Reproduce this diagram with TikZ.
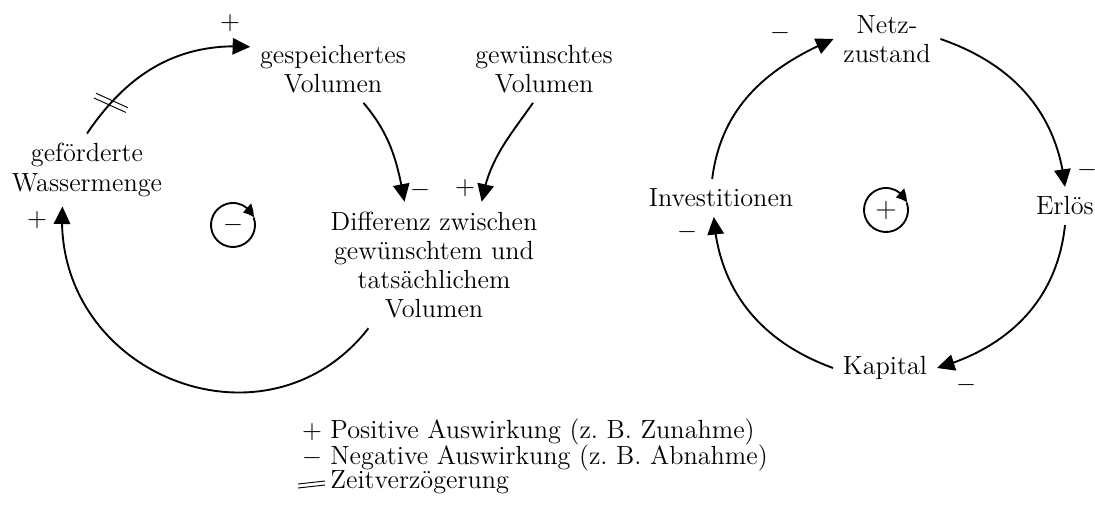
\documentclass[tikz,border=0pt]{standalone}
\usepackage{amsmath,amsfonts,amssymb}
\usetikzlibrary{arrows.meta,bending,decorations.markings}

\begin{document}
\begin{tikzpicture}[x=0.015cm, y=0.015cm, font=\fontsize{11.2}{12.5}\selectfont,
	var/.style={align=center, inner sep=4pt},
	sgn/.style={inner sep=0pt},
	link/.style={thick, -{Triangle[length=7.5pt, width=7pt]}},
	loopsign/.style={thick, -{Triangle[length=5pt, width=5pt, bend]}},
	delaymark/.style={thin, -},
	delaylink/.style={link, postaction={decorate}, decoration={markings, mark=at position 0.2 with {
		\draw[delaymark] ([shift={(18:1.1pt)}]-72:7.5pt) -- ([shift={(18:1.1pt)}]108:7.5pt);
		\draw[delaymark] ([shift={(198:1.1pt)}]-72:7.5pt) -- ([shift={(198:1.1pt)}]108:7.5pt);}}}]
			\useasboundingbox (0,0) rectangle (1095,504);

			% left loop
			\node (gesp) at (333,435) [var] {gespeichertes\\Volumen};
			\node (gew) at (544,435) [var] {gewünschtes\\Volumen};
			\node (gef) at (87,334) [var] {geförderte\\Wassermenge};
			\node (diff) at (434,239) [var] {Differenz zwischen\\gewünschtem und\\tatsächlichem\\Volumen};
			\node (loopA) at (233,279) [sgn] {$-$};

			\node (s1) at (230,481) [sgn] {$+$};
			\node (s2) at (420,314) [sgn] {$-$};
			\node (s3) at (465,316) [sgn] {$+$};
			\node (s4) at (37,284) [sgn] {$+$};

			\draw[delaylink] (gef.north) to[out=56,in=176] (gesp.165);
			\draw[link] (gesp.-48) to[out=-50,in=100] (diff.115);
			\draw[link] (gew.-108) to[out=-125,in=80] (diff.53);
			\draw[link] (diff.-136) to[out=-128,in=-94,looseness=1.3] (gef.-124);
			\draw[loopsign] (loopA) ++(20:22) arc[start angle=20, end angle=-340, radius=22];

			% right loop
			\node (netz) at (887,465) [var] {Netz-\\zustand};
			\node (erl) at (1065,298) [var] {Erlös};
			\node (kap) at (885,136) [var] {Kapital};
			\node (inv) at (721,306) [var] {Investitionen};
			\node (loopB) at (886,294) [sgn] {\large$+$};

			\node (s5) at (1087,334) [sgn] {$-$};
			\node (s6) at (966,119) [sgn] {$-$};
			\node (s7) at (687,272) [sgn] {$-$};
			\node (s8) at (780,471) [sgn] {$-$};

			\draw[link] (netz.east) to[out=-19,in=96] (erl.north);
			\draw[link] (erl.south) to[out=-96,in=16] (kap.east);
			\draw[link] (kap.west) to[out=160,in=-86] (inv.-111);
			\draw[link] (inv.115) to[out=83,in=-157] (netz.west);
			\draw[loopsign] (loopB) ++(20:22) arc[start angle=20, end angle=-340, radius=22];

			% legend
			\node (lgplus) at (312,65) [sgn, anchor=base] {$+$};
			\node (lgminus) at (312,40) [sgn, anchor=base] {$-$};
			\node (lgpos) at (330,65) [sgn, anchor=base west] {Positive Auswirkung (z.~B. Zunahme)};
			\node (lgneg) at (330,40) [sgn, anchor=base west] {Negative Auswirkung (z.~B. Abnahme)};
			\node (lgdel) at (330,15) [sgn, anchor=base west] {Zeitverzögerung};
			\draw[delaymark] (298,16) -- (325,19) (298,20) -- (325,23);
		\end{tikzpicture}
\end{document}
